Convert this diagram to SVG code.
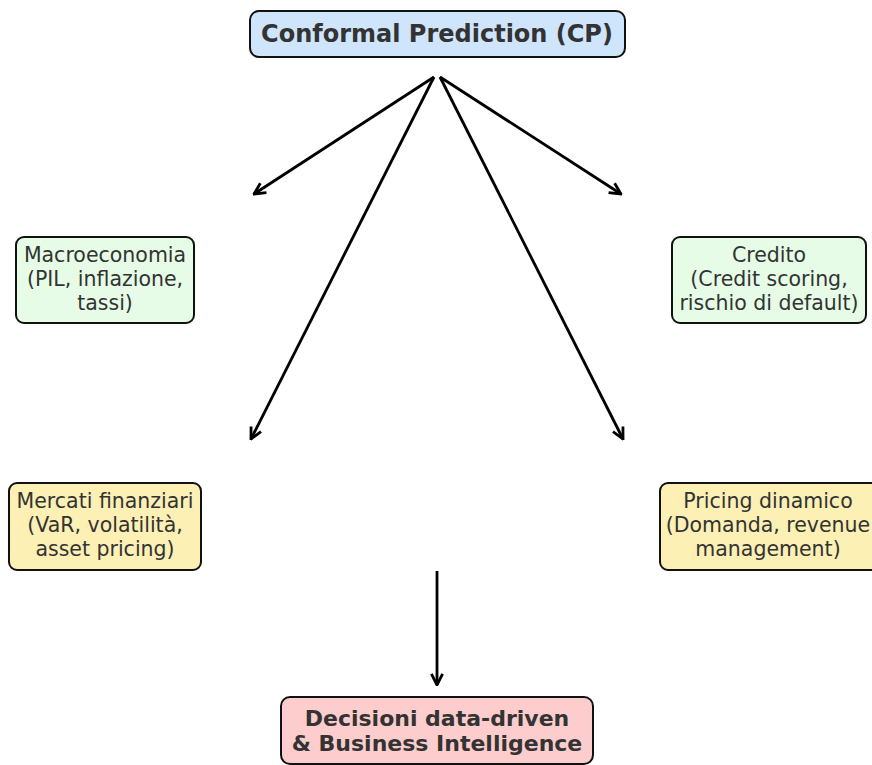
<svg xmlns="http://www.w3.org/2000/svg" width="872" height="765" viewBox="0 0 872 765">
<style>
.box{stroke:#111;stroke-width:2}
.t{font-family:"DejaVu Sans",sans-serif;font-size:20.5px;fill:#333;text-anchor:middle}
.b{font-family:"DejaVu Sans",sans-serif;font-weight:bold;fill:#333;text-anchor:middle}
.c{stroke:#000;stroke-width:2.8;fill:none;marker-end:url(#ah)}
</style>
<defs>
<marker id="ah" viewBox="0 0 10 10" refX="9" refY="5" markerWidth="5" markerHeight="5" orient="auto" markerUnits="strokeWidth">
<path d="M1,1 L9,5 L1,9" fill="none" stroke="#000" stroke-width="2"/>
</marker>
</defs>
<rect width="872" height="765" fill="#fff"/>
<g id="connectors">
<line class="c" x1="434" y1="77" x2="254" y2="194"/>
<line class="c" x1="434" y1="77" x2="251" y2="439"/>
<line class="c" x1="440" y1="77" x2="621" y2="194"/>
<line class="c" x1="440" y1="77" x2="623" y2="439"/>
<line class="c" x1="437" y1="571" x2="437" y2="685"/>
</g>
<g id="cp">
<rect class="box" x="250" y="11" width="375" height="46" rx="9" fill="#cfe5fc"/>
<text class="b" x="437" y="42" font-size="24">Conformal Prediction (CP)</text>
</g>
<g id="macro">
<rect class="box" x="16" y="237" width="178" height="86" rx="8" fill="#e6fce6"/>
<text class="t" x="105" y="262">Macroeconomia</text>
<text class="t" x="105" y="286">(PIL, inflazione,</text>
<text class="t" x="105" y="310">tassi)</text>
</g>
<g id="credito">
<rect class="box" x="672" y="237" width="194" height="86" rx="8" fill="#e6fce6"/>
<text class="t" x="769" y="262">Credito</text>
<text class="t" x="769" y="286">(Credit scoring,</text>
<text class="t" x="769" y="310">rischio di default)</text>
</g>
<g id="mercati">
<rect class="box" x="9" y="483" width="192" height="87" rx="8" fill="#fdf0b5"/>
<text class="t" x="105" y="508">Mercati finanziari</text>
<text class="t" x="105" y="532">(VaR, volatilità,</text>
<text class="t" x="105" y="556">asset pricing)</text>
</g>
<g id="pricing">
<rect class="box" x="660" y="483" width="220" height="87" rx="8" fill="#fdf0b5"/>
<text class="t" x="768" y="508">Pricing dinamico</text>
<text class="t" x="768" y="532">(Domanda, revenue</text>
<text class="t" x="768" y="556">management)</text>
</g>
<g id="decisioni">
<rect class="box" x="281" y="697" width="312" height="67" rx="9" fill="#fdcccc"/>
<text class="b" x="437" y="726" font-size="22">Decisioni data-driven</text>
<text class="b" x="437" y="751" font-size="22">&amp; Business Intelligence</text>
</g>
</svg>
